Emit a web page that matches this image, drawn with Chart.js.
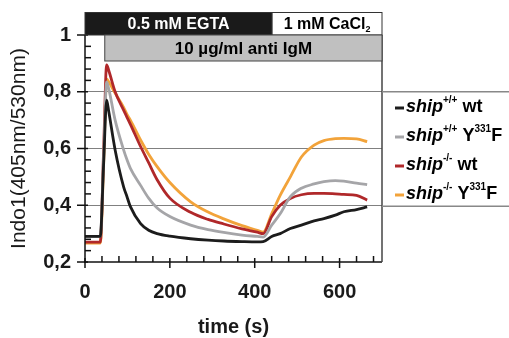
<!DOCTYPE html>
<html>
<head>
<meta charset="utf-8">
<script src="https://cdn.jsdelivr.net/npm/chart.js@4"></script>
<style>
  html, body { margin: 0; padding: 0; background: #fff; }
</style>
</head>
<body>
<canvas id="indoChart" width="509" height="338"></canvas>
<script>
// czas pomiaru (s)
const timeS = [0, 36, 44, 51, 56, 71, 91, 99, 107, 131, 150, 170, 200, 249, 290, 327, 370, 406, 420, 440, 460, 484, 510, 540, 563, 590, 610, 640, 665];

// Indo1 ratio for each genotype
const shipWt    = [0.29, 0.29, 0.55, 0.77, 0.73, 0.595, 0.465, 0.43, 0.395, 0.335, 0.312, 0.300, 0.291, 0.282, 0.277, 0.274, 0.272, 0.271, 0.272, 0.290, 0.300, 0.318, 0.330, 0.345, 0.353, 0.365, 0.377, 0.385, 0.394];
const shipY331F = [0.29, 0.29, 0.58, 0.835, 0.81, 0.70, 0.595, 0.56, 0.53, 0.47, 0.425, 0.39, 0.36, 0.33, 0.314, 0.304, 0.295, 0.290, 0.288, 0.330, 0.370, 0.430, 0.460, 0.475, 0.483, 0.487, 0.485, 0.478, 0.473];
const koWt      = [0.27, 0.27, 0.60, 0.895, 0.875, 0.80, 0.735, 0.71, 0.685, 0.607, 0.55, 0.49, 0.425, 0.375, 0.35, 0.334, 0.317, 0.305, 0.300, 0.360, 0.400, 0.424, 0.437, 0.442, 0.442, 0.440, 0.438, 0.435, 0.418];
const koY331F   = [0.267, 0.267, 0.55, 0.845, 0.835, 0.795, 0.745, 0.72, 0.70, 0.63, 0.58, 0.536, 0.48, 0.412, 0.376, 0.352, 0.328, 0.312, 0.305, 0.370, 0.435, 0.500, 0.570, 0.612, 0.628, 0.635, 0.636, 0.634, 0.624];

const seriesColors = ['#1c1c1c', '#a5a5a8', '#b0282a', '#f2a33a'];

// tick labels
const xTickValues = [0, 200, 400, 600];
const yTickValues = [0.2, 0.4, 0.6, 0.8, 1];
const yTickLabels = ['0,2', '0,4', '0,6', '0,8', '1'];

// treatment bars above the plot (from, to in seconds)
const bufferBars = [
  { label: '0.5 mM EGTA', sub: '', from: 0, to: 441, fill: '#1a1a1a', text: '#fff' },
  { label: '1 mM CaCl', sub: '2', from: 441, to: 700, fill: '#fff', text: '#000' }
];
const stimBar = { label: '10 µg/ml anti IgM', from: 46.6, to: 700 };

// legend entries: [base, superscript, rest, superscript, rest]
const legendItems = [
  ['ship', '+/+', ' wt', '', ''],
  ['ship', '+/+', ' Y', '331', 'F'],
  ['ship', '-/-', ' wt', '', ''],
  ['ship', '-/-', ' Y', '331', 'F']
];

const FONT = "'Liberation Sans', Arial, sans-serif";

function toPoints(ys) {
  return timeS.map((t, i) => ({ x: t, y: ys[i] }));
}

function line(ctx, x1, y1, x2, y2) {
  ctx.beginPath();
  ctx.moveTo(x1, y1);
  ctx.lineTo(x2, y2);
  ctx.stroke();
}

function drawParts(ctx, x, y, parts, measureOnly) {
  let w = 0;
  for (const p of parts) {
    if (!p.t) continue;
    ctx.font = p.font;
    if (!measureOnly) ctx.fillText(p.t, x + w, y + (p.dy || 0));
    w += ctx.measureText(p.t).width;
  }
  return w;
}

// rysowanie osi, paskow i legendy
const extras = {
  id: 'extras',
  afterDraw(chart) {
    const { ctx, chartArea: a, scales: { x, y } } = chart;
    ctx.save();

    // axes + right frame
    ctx.strokeStyle = '#111';
    ctx.lineWidth = 1.5;
    line(ctx, a.left, a.top, a.left, a.bottom + 1);
    line(ctx, a.left - 1, a.bottom, a.right, a.bottom);
    ctx.strokeStyle = '#444';
    line(ctx, a.right, a.top, a.right, a.bottom);

    // ticks
    ctx.strokeStyle = '#111';
    for (let i = 1; i < 20; i++) {
      const py = y.getPixelForValue(0.2 + i * 0.04);
      if (i % 5) line(ctx, a.left, py, a.left + 6, py);
    }
    yTickValues.forEach(v => {
      const py = y.getPixelForValue(v);
      line(ctx, a.left - 8, py, a.left + 3, py);
    });
    for (let i = 1; i < 18; i++) {
      const px = x.getPixelForValue(i * 40);
      if (i % 5) line(ctx, px, a.bottom, px, a.bottom - 6);
    }
    xTickValues.forEach(v => {
      const px = x.getPixelForValue(v);
      line(ctx, px, a.bottom - 4, px, a.bottom + 6);
    });

    // treatment bars
    const topY = 12.5;
    ctx.textBaseline = 'middle';
    bufferBars.forEach(b => {
      const x1 = x.getPixelForValue(b.from), x2 = x.getPixelForValue(b.to);
      ctx.fillStyle = b.fill;
      ctx.fillRect(x1, topY, x2 - x1, a.top - topY);
      ctx.strokeStyle = '#333';
      ctx.lineWidth = 1;
      ctx.strokeRect(x1, topY, x2 - x1, a.top - topY);
      const parts = [
        { t: b.label, font: 'bold 16px ' + FONT },
        { t: b.sub, font: 'bold 9px ' + FONT, dy: 5 }
      ];
      const w = drawParts(ctx, 0, 0, parts, true);
      ctx.fillStyle = b.text;
      drawParts(ctx, (x1 + x2) / 2 - w / 2, (topY + a.top) / 2 + 1, parts);
    });
    const s1 = x.getPixelForValue(stimBar.from), s2 = x.getPixelForValue(stimBar.to);
    const stimBottom = 61;
    ctx.fillStyle = '#c0c0c0';
    ctx.fillRect(s1, a.top, s2 - s1, stimBottom - a.top);
    ctx.strokeStyle = '#444';
    ctx.strokeRect(s1, a.top, s2 - s1, stimBottom - a.top);
    ctx.fillStyle = '#000';
    ctx.font = 'bold 17px ' + FONT;
    ctx.textAlign = 'center';
    ctx.fillText(stimBar.label, (s1 + s2) / 2, (a.top + stimBottom) / 2 + 1);
    ctx.textAlign = 'left';

    // legend
    const lgTop = y.getPixelForValue(0.8), lgBottom = y.getPixelForValue(0.4) + 1, W = chart.width;
    ctx.strokeStyle = '#888';
    ctx.lineWidth = 1.5;
    line(ctx, a.right, lgTop, W, lgTop);
    line(ctx, a.right, lgBottom, W, lgBottom);
    legendItems.forEach((it, i) => {
      const cy = 107 + i * 29;
      ctx.strokeStyle = seriesColors[i];
      ctx.lineWidth = 3;
      line(ctx, 395, cy + 1, 404, cy + 1);
      ctx.fillStyle = '#000';
      drawParts(ctx, 406, cy, [
        { t: it[0], font: 'italic bold 18px ' + FONT },
        { t: it[1], font: 'bold 10px ' + FONT, dy: -7 },
        { t: it[2], font: 'bold 18px ' + FONT },
        { t: it[3], font: 'bold 10px ' + FONT, dy: -7 },
        { t: it[4], font: 'bold 18px ' + FONT }
      ]);
    });
    ctx.restore();
  }
};

const ctxIndo = document.getElementById('indoChart').getContext('2d');
const datasetNames = ['ship+/+ wt', 'ship+/+ Y331F', 'ship-/- wt', 'ship-/- Y331F'];
const seriesData = [shipWt, shipY331F, koWt, koY331F];

const indoChart = new Chart(ctxIndo, {
  type: 'line',
  data: {
    datasets: seriesData.map((d, i) => ({
      label: datasetNames[i],
      data: toPoints(d),
      borderColor: seriesColors[i],
      borderWidth: 2.8,
      pointRadius: 0,
      cubicInterpolationMode: 'monotone',
      fill: false
    }))
  },
  options: {
    responsive: false,
    animation: false,
    layout: { padding: { top: 35, right: 127, left: 0, bottom: 0 } },
    plugins: { legend: { display: false }, tooltip: { enabled: false } },
    scales: {
      x: {
        type: 'linear',
        min: 0,
        max: 700,
        afterFit: s => { s.height = 76; },
        afterBuildTicks: s => { s.ticks = xTickValues.map(v => ({ value: v })); },
        grid: { color: 'rgba(0,0,0,0)', drawTicks: false },
        border: { display: false },
        ticks: { color: '#1a1a1a', padding: 18, font: { family: FONT, size: 20, weight: 'bold' } },
        title: { display: true, text: 'time (s)', color: '#1a1a1a', padding: 0,
                 font: { family: FONT, size: 20, weight: 'bold', lineHeight: 1.05 } }
      },
      y: {
        min: 0.2,
        max: 1,
        afterFit: s => { s.width = 85; },
        afterBuildTicks: s => { s.ticks = yTickValues.map(v => ({ value: v })); },
        grid: {
          drawTicks: false,
          color: c => (c.tick && c.tick.value > 0.21 && c.tick.value < 0.99) ? '#808080' : 'rgba(0,0,0,0)',
          lineWidth: 1
        },
        border: { display: false },
        ticks: { color: '#1a1a1a', padding: 14, callback: (v, i) => yTickLabels[i],
                 font: { family: FONT, size: 20, weight: 'bold' } },
        title: { display: true, text: 'Indo1(405nm/530nm)', color: '#1a1a1a', padding: { top: 8, bottom: 0 },
                 font: { family: FONT, size: 21, lineHeight: 1.1 } }
      }
    }
  },
  plugins: [extras]
});
</script>
</body>
</html>
